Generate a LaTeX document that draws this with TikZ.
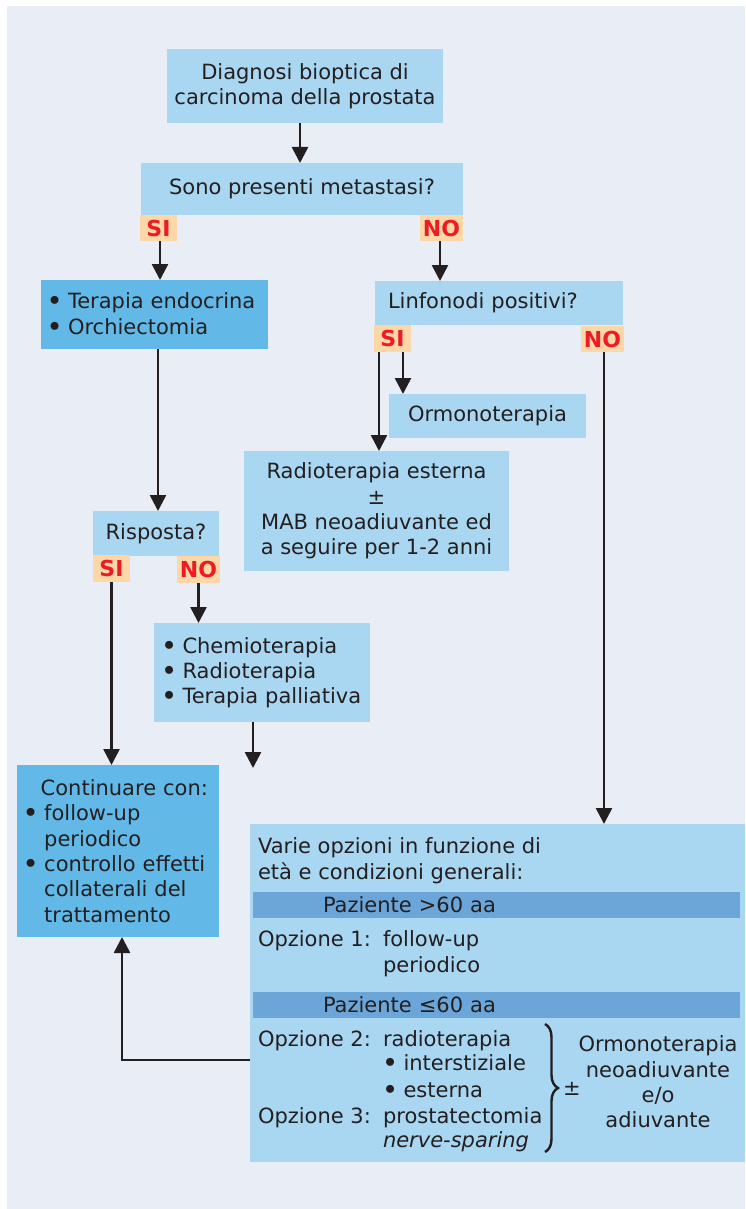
\documentclass[tikz,border=0pt]{standalone}
\usepackage{fontspec}
\setmainfont{DejaVu Sans}
\usetikzlibrary{arrows.meta,decorations.pathreplacing}
\definecolor{panel}{HTML}{E9EDF6}
\definecolor{lightb}{HTML}{A9D6F1}
\definecolor{darkb}{HTML}{62B9E8}
\definecolor{barb}{HTML}{6CA6D8}
\definecolor{tagbg}{HTML}{FDD7A8}
\definecolor{tagred}{HTML}{ED1C24}
\definecolor{txt}{HTML}{231F20}
\newcommand{\fs}{\fontsize{21}{25.3}\selectfont}
\newcommand{\mybul}{\makebox[21.5pt][l]{\raisebox{-0.1em}{\scalebox{1.3}{•}}}}
\newcommand{\myind}{\hspace*{21.5pt}}
\tikzset{
  box/.style={fill=lightb, text=txt, font=\fs, inner sep=0pt, outer sep=0pt, anchor=north west},
  dbox/.style={box, fill=darkb},
  barbox/.style={box, fill=barb},
  tagbox/.style={fill=tagbg, text=tagred, font=\fontsize{22}{25}\selectfont\bfseries, inner sep=0pt, outer sep=0pt, anchor=north west},
  txtn/.style={text=txt, font=\fs, inner sep=0pt, outer sep=0pt, anchor=base west},
  conn/.style={draw=txt, line width=2.6pt},
  arr/.style={conn, -{Triangle[width=16pt,length=16pt]}},
}
\begin{document}
\begin{tikzpicture}[x=1pt,y=-1pt]
\useasboundingbox (0,0) rectangle (745,1209);
\fill[white] (0,0) rectangle (745,1209);
\fill[panel] (7,6) rectangle (745,1209);

% boxes
\node[box, minimum width=276, minimum height=74, align=center] (diag) at (167,49) {Diagnosi bioptica di\\carcinoma della prostata};
\node[box, minimum width=322, minimum height=52] (meta) at (141,163) {Sono presenti metastasi?};
\node[tagbox, minimum width=37, minimum height=26] (si1) at (140,215) {SI};
\node[tagbox, minimum width=43, minimum height=26] (no1) at (420,215) {NO};

\node[dbox, minimum width=227, minimum height=69, text width=216, align=left] (ter) at (41,280)
  {\mbox{\mybul Terapia endocrina}\\\mbox{\mybul Orchiectomia}};

\node[box, minimum width=248, minimum height=44, text width=222, align=left] (linf) at (375,281) {Linfonodi positivi?};
\node[tagbox, minimum width=37, minimum height=27] (si2) at (374,325) {SI};
\node[tagbox, minimum width=43, minimum height=26] (no2) at (581,326) {NO};

\node[box, minimum width=197, minimum height=44] (orm) at (389,394) {Ormonoterapia};
\node[box, minimum width=265, minimum height=120, align=center] (radio) at (244,451)
  {Radioterapia esterna\\±\\MAB neoadiuvante ed\\a seguire per 1-2 anni};

\node[box, minimum width=126, minimum height=45] (risp) at (93,511) {Risposta?};
\node[tagbox, minimum width=37, minimum height=27] (si3) at (93,555) {SI};
\node[tagbox, minimum width=43, minimum height=27] (no3) at (177,556) {NO};

\node[box, minimum width=216, minimum height=99, text width=202, align=left] (chemio) at (154,623)
  {\mbox{\mybul Chemioterapia}\\\mbox{\mybul Radioterapia}\\\mbox{\mybul Terapia palliativa}};
\coordinate (chemend) at (253,768);

\node[dbox, minimum width=202, minimum height=172, text width=190.6, align=left] (cont) at (17,765)
  {\mbox{\hspace*{18pt}Continuare con:}\\\mbox{\mybul follow-up}\\\mbox{\myind periodico}\\\mbox{\mybul controllo effetti}\\\mbox{\myind collaterali del}\\\mbox{\myind trattamento}};

% big box
\node[box, minimum width=495, minimum height=338] (big) at (250,824) {};
\node[txtn] (v1) at (258,853) {Varie opzioni in funzione di};
\node[txtn] (v2) at (258,879) {età e condizioni generali:};
\node[barbox, minimum width=487, minimum height=26, text width=347, align=left] (bar1) at (253,892) {Paziente >60 aa};
\node[txtn] (o1) at (258,946) {Opzione 1:};
\node[txtn] (o1a) at (383,946) {follow-up};
\node[txtn] (o1b) at (383,972) {periodico};
\node[barbox, minimum width=487, minimum height=26, text width=347, align=left] (bar2) at (253,992) {Paziente ≤60 aa};
\node[txtn] (o2) at (258,1046) {Opzione 2:};
\node[txtn] (o2a) at (383,1046) {radioterapia};
\node[txtn] (o2b) at (382,1070) {\mybul interstiziale};
\node[txtn] (o2c) at (382,1097) {\mybul esterna};
\node[txtn] (o3) at (258,1123) {Opzione 3:};
\node[txtn] (o3a) at (383,1123) {prostatectomia};
\node[txtn] (o3b) at (383,1147) {\itshape nerve-sparing};
\draw[txt, line width=2.4pt, decorate, decoration={brace, amplitude=13pt, aspect=0.5}] (545,1024) -- (545,1152);
\node[text=txt, font=\fs, inner sep=0pt] (pm) at (572,1089) {±};
\node[text=txt, font=\fs, inner sep=0pt, align=center] (ormb) at (658,1082)
  {Ormonoterapia\\neoadiuvante\\e/o\\adiuvante};

% connectors
\draw[arr] ([xshift=-5pt]diag.south) -- ([xshift=-5pt]diag.south |- meta.north);
\draw[arr] ([xshift=1.5pt]si1.south) -- ([xshift=1.5pt]si1.south |- ter.north);
\draw[arr] ([xshift=-1.5pt]no1.south) -- ([xshift=-1.5pt]no1.south |- linf.north);
\draw[arr] ([xshift=3.5pt]ter.south) -- ([xshift=3.5pt]ter.south |- risp.north);
\draw[arr] ([xshift=-13.5pt]si2.south) -- ([xshift=-13.5pt]si2.south |- radio.north);
\draw[arr] ([xshift=10.5pt]si2.south) -- ([xshift=10.5pt]si2.south |- orm.north);
\draw[arr] ([xshift=1.5pt]no2.south) -- ([xshift=1.5pt]no2.south |- big.north);
\draw[arr] (si3.south) -- (si3.south |- cont.north);
\draw[arr] (no3.south) -- (no3.south |- chemio.north);
\draw[arr] (chemio.south -| chemend) -- (chemend);
\draw[arr] ([yshift=-67pt]big.west) -| ([xshift=4pt]cont.south);
\end{tikzpicture}
\end{document}
